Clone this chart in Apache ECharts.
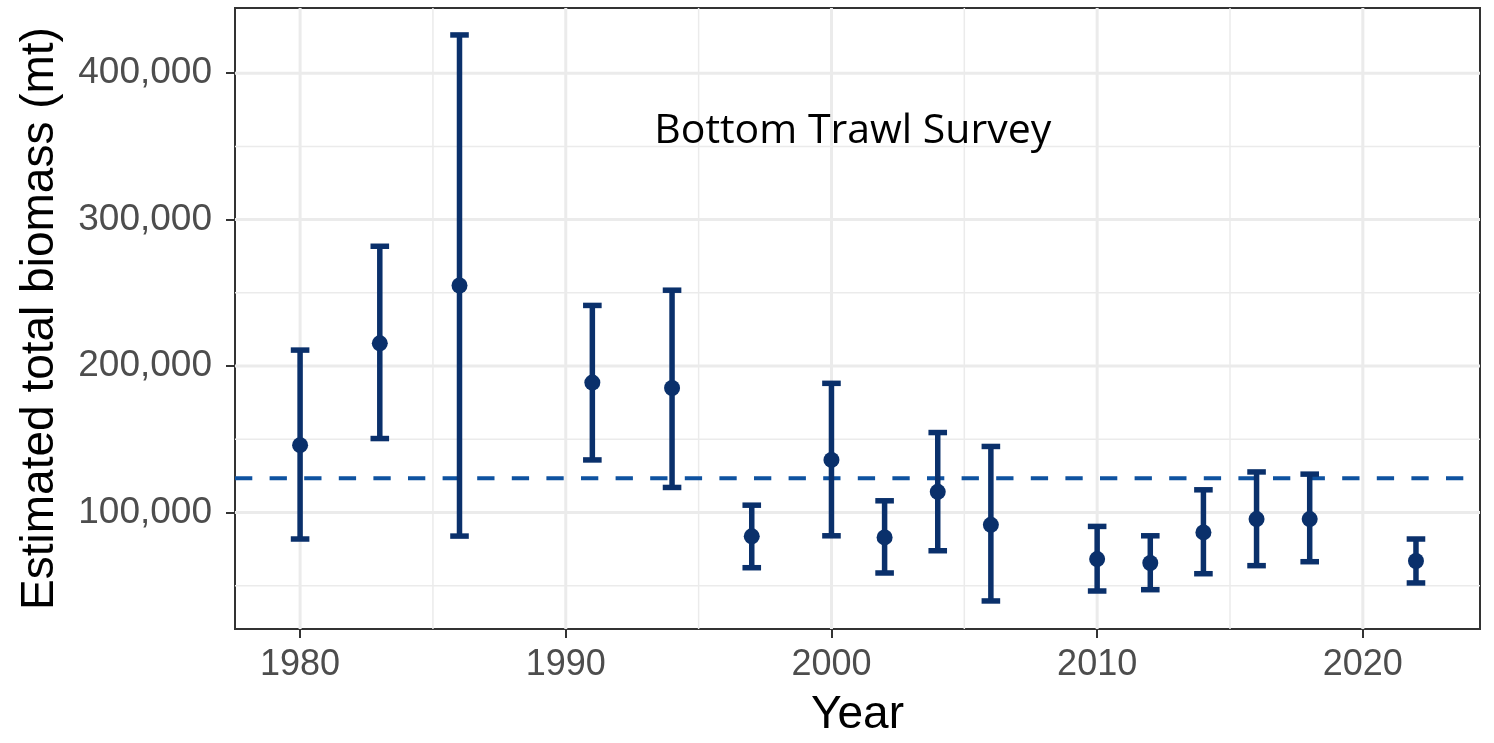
<!DOCTYPE html>
<html>
<head>
<meta charset="utf-8">
<script src="https://cdn.jsdelivr.net/npm/echarts@6/dist/echarts.min.js"></script>
<style>
html,body{margin:0;padding:0;background:#fff;}
#chart{width:1494px;height:743px;}
</style>
</head>
<body>
<div id="chart"></div>
<script>
// ---- data ----
const years   = [1980, 1983, 1986, 1991, 1994, 1997, 2000, 2002, 2004, 2006, 2010, 2012, 2014, 2016, 2018, 2022];
const biomass = [146000, 215500, 255000, 188700, 185000, 83700, 135900, 83000, 114100, 91600, 68200, 65500, 86400, 95500, 95500, 66900];
const lower   = [81900, 150500, 83900, 135900, 117100, 62300, 84100, 58700, 73900, 39600, 46400, 47300, 58200, 63700, 66400, 51900];
const upper   = [210900, 281800, 426100, 241400, 251800, 105000, 188200, 108000, 154600, 145100, 90500, 84100, 115500, 127700, 126200, 81900];
const meanBiomass = 123400;

const xTicks = [1980, 1990, 2000, 2010, 2020];
const xMinor = [1985, 1995, 2005, 2015];
const yTicks = [100000, 200000, 300000, 400000];
const yMinor = [50000, 150000, 250000, 350000];

const annotationText = 'Bottom Trawl Survey';
const annotationPos = [2000.8, 360000];

// ---- chart ----
const barColor = '#0a306b';
const dashColor = '#0e52a0';
const gridColor = '#ebebeb';

const chart = echarts.init(document.getElementById('chart'), null, {renderer: 'canvas'});

function vGridItem(params, api) {
  const cs = params.coordSys;
  const px = api.coord([api.value(0), 0])[0];
  return {type: 'line', shape: {x1: px, y1: cs.y, x2: px, y2: cs.y + cs.height},
          style: {stroke: gridColor, lineWidth: api.value(1)}};
}
function hGridItem(params, api) {
  const cs = params.coordSys;
  const py = api.coord([0, api.value(0)])[1];
  return {type: 'line', shape: {x1: cs.x, y1: py, x2: cs.x + cs.width, y2: py},
          style: {stroke: gridColor, lineWidth: api.value(1)}};
}

const option = {
  animation: false,
  backgroundColor: '#ffffff',
  grid: {left: 235, right: 14, top: 8, bottom: 113, show: true,
         borderColor: '#333333', borderWidth: 2, backgroundColor: 'transparent'},
  xAxis: {
    type: 'value', min: 1977.55, max: 2024.41,
    name: 'Year', nameLocation: 'middle', nameGap: 63,
    nameTextStyle: {fontFamily: 'Liberation Sans', fontSize: 46, color: '#000000'},
    axisLine: {show: false},
    axisTick: {show: true, customValues: xTicks, length: 9, lineStyle: {color: '#333333', width: 2}},
    axisLabel: {customValues: xTicks, margin: 18, fontFamily: 'Liberation Sans', fontSize: 36, color: '#4d4d4d',
                formatter: v => String(Math.round(v))},
    splitLine: {show: false}
  },
  yAxis: {
    type: 'value', min: 20450, max: 444500,
    name: 'Estimated total biomass (mt)', nameLocation: 'middle', nameGap: 172, nameRotate: 90,
    nameTextStyle: {fontFamily: 'Liberation Sans', fontSize: 46, color: '#000000'},
    axisLine: {show: false},
    axisTick: {show: true, customValues: yTicks, length: 9, lineStyle: {color: '#333333', width: 2}},
    axisLabel: {customValues: yTicks, margin: 23, fontFamily: 'Liberation Sans', fontSize: 37, color: '#4d4d4d',
                formatter: v => Math.round(v).toLocaleString('en-US')},
    splitLine: {show: false}
  },
  series: [
    {type: 'custom', name: 'xminor', z: 1, silent: true, clip: true,
     data: xMinor.map(v => [v, 1.5]), renderItem: vGridItem},
    {type: 'custom', name: 'xmajor', z: 1, silent: true, clip: true,
     data: xTicks.map(v => [v, 3]), renderItem: vGridItem},
    {type: 'custom', name: 'yminor', z: 1, silent: true, clip: true,
     data: yMinor.map(v => [v, 1.5]), renderItem: hGridItem},
    {type: 'custom', name: 'ymajor', z: 1, silent: true, clip: true,
     data: yTicks.map(v => [v, 3]), renderItem: hGridItem},
    {type: 'custom', name: 'mean', z: 2, silent: true,
     data: [[meanBiomass]],
     renderItem: function (params, api) {
       const cs = params.coordSys;
       const py = api.coord([0, api.value(0)])[1];
       return {type: 'line', shape: {x1: cs.x, y1: py, x2: cs.x + cs.width, y2: py},
               style: {stroke: dashColor, lineWidth: 3.8, lineDash: [17.3, 17.3]}};
     }},
    {type: 'custom', name: 'errorbars', z: 3, silent: true,
     data: years.map((y, i) => [y, lower[i], upper[i]]),
     encode: {x: 0, y: [1, 2]},
     renderItem: function (params, api) {
       const x = api.value(0);
       const pLo = api.coord([x, api.value(1)]);
       const pHi = api.coord([x, api.value(2)]);
       const half = api.size([0.7, 0])[0] / 2;
       const st = {stroke: barColor, lineWidth: 5.5};
       return {type: 'group', children: [
         {type: 'line', shape: {x1: pHi[0], y1: pHi[1], x2: pLo[0], y2: pLo[1]}, style: st},
         {type: 'line', shape: {x1: pHi[0] - half, y1: pHi[1], x2: pHi[0] + half, y2: pHi[1]}, style: st},
         {type: 'line', shape: {x1: pLo[0] - half, y1: pLo[1], x2: pLo[0] + half, y2: pLo[1]}, style: st}
       ]};
     }},
    {type: 'scatter', name: 'biomass', z: 4, silent: true,
     symbol: 'circle', symbolSize: 16, itemStyle: {color: barColor, opacity: 1},
     data: years.map((y, i) => [y, biomass[i]])},
    {type: 'custom', name: 'annotation', z: 5, silent: true,
     data: [annotationPos],
     renderItem: function (params, api) {
       const p = api.coord([api.value(0), api.value(1)]);
       return {type: 'text', x: p[0], y: p[1],
               style: {text: annotationText, fontFamily: 'Open Sans', fontSize: 41, fill: '#000000',
                       align: 'center', verticalAlign: 'middle'}};
     }}
  ]
};
chart.setOption(option);
</script>
</body>
</html>
